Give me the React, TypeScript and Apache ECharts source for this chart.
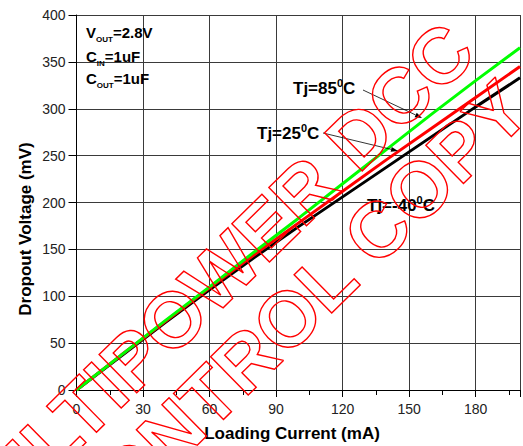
import React, { useEffect, useRef } from 'react';
import * as echarts from 'echarts';

const xValues = [0, 20, 40, 60, 80, 100, 120, 140, 160, 180, 200];
const green85 = [0, 37, 74, 110, 147, 183, 220, 257, 294, 330, 365];
const red25 = [0, 37, 73, 109, 144, 178, 212, 246, 279, 312, 345];
const blackM40 = [0, 36, 72, 107, 141, 174, 206, 238, 270, 302, 333];
const xTickLabels = [0, 30, 60, 90, 120, 150, 180];
const yTickLabels = [0, 50, 100, 150, 200, 250, 300, 350, 400];
const conditionLabels = [
  { main: 'V', sub: 'OUT', rest: '=2.8V' },
  { main: 'C', sub: 'IN', rest: '=1uF' },
  { main: 'C', sub: 'OUT', rest: '=1uF' },
];
const tempLabels = ['85', '25', '-40'];
const watermark1 = 'ULTIPOWER DCC';
const watermark2 = 'CONTROL COPY';

const FONT = "'Liberation Sans', Arial, sans-serif";

function arrow(x1: number, y1: number, x2: number, y2: number) {
  const dx = x2 - x1;
  const dy = y2 - y1;
  const len = Math.sqrt(dx * dx + dy * dy);
  const ux = dx / len;
  const uy = dy / len;
  const hl = 7;
  const hw = 2.5;
  const bx = x2 - ux * hl;
  const by = y2 - uy * hl;
  return [
    {
      type: 'line',
      z: 50,
      shape: { x1, y1, x2: bx, y2: by },
      style: { stroke: '#000', lineWidth: 0.8 },
    },
    {
      type: 'polygon',
      z: 50,
      shape: {
        points: [
          [x2, y2],
          [bx - uy * hw, by + ux * hw],
          [bx + uy * hw, by - ux * hw],
        ],
      },
      style: { fill: '#000' },
    },
  ];
}

export default function App() {
  const ref = useRef<HTMLDivElement>(null);
  useEffect(() => {
    if (!ref.current) return;
    const chart = echarts.init(ref.current, null, { renderer: 'svg' });
    const mk = (ys: number[]) => xValues.map((x, i) => [x, ys[i]]);

    const condTexts = conditionLabels.map((c, i) => ({
      type: 'text',
      z: 50,
      left: 86,
      top: [25, 49, 71][i],
      style: {
        text: `{b|${c.main}}{s|${c.sub}}{b|${c.rest}}`,
        rich: {
          b: { fontSize: 15, fontWeight: 'bold', fontFamily: FONT, fill: '#000', lineHeight: 17, verticalAlign: 'bottom' },
          s: { fontSize: 8, fontWeight: 'bold', fontFamily: FONT, fill: '#000', lineHeight: 17, verticalAlign: 'bottom', padding: [0, 0, -3, 0] },
        },
      },
    }));

    const tempPos = [
      [293, 87],
      [257, 132],
      [367, 204],
    ];
    const tempTexts = tempLabels.map((t, i) => ({
      type: 'text',
      z: 50,
      x: tempPos[i][0],
      y: tempPos[i][1],
      style: {
        text: `{b|Tj=${t}}{s|0}{b|C}`,
        verticalAlign: 'middle',
        align: 'left',
        rich: {
          b: { fontSize: 17, fontWeight: 'bold', fontFamily: FONT, fill: '#000', lineHeight: 20, verticalAlign: 'bottom' },
          s: { fontSize: 11, fontWeight: 'bold', fontFamily: FONT, fill: '#000', lineHeight: 20, verticalAlign: 'top' },
        },
      },
    }));

    const rot = (44.5 * Math.PI) / 180;
    const wmStyle = {
      fill: 'none',
      stroke: '#ff0000',
      lineWidth: 1.4,
      fontSize: 78,
      fontWeight: 'bold',
      fontFamily: FONT,
      align: 'right',
      verticalAlign: 'middle',
    };

    chart.setOption({
      animation: false,
      grid: { left: 76.5, right: 0, top: 15, bottom: 56 },
      xAxis: {
        type: 'value',
        min: 0,
        max: 200,
        interval: 30,
        axisLine: { lineStyle: { color: '#000', width: 1 } },
        axisTick: { show: true, length: 7, lineStyle: { color: '#000' } },
        minorTick: { show: true, splitNumber: 2, length: 5, lineStyle: { color: '#000' } },
        splitLine: { show: true, lineStyle: { color: '#3a3a3a', width: 1 } },
        axisLabel: {
          fontSize: 14,
          color: '#222',
          fontFamily: FONT,
          margin: 12,
          formatter: (v: number) => (xTickLabels.includes(v) ? String(v) : ''),
        },
      },
      yAxis: {
        type: 'value',
        min: 0,
        max: 400,
        interval: 50,
        axisLine: { show: true, lineStyle: { color: '#000', width: 1 } },
        axisTick: { show: true, length: 8, lineStyle: { color: '#000' } },
        splitLine: { show: true, lineStyle: { color: '#3a3a3a', width: 1 } },
        axisLabel: {
          fontSize: 14,
          color: '#222',
          fontFamily: FONT,
          margin: 11,
          formatter: (v: number) => (yTickLabels.includes(v) ? String(v) : ''),
        },
      },
      series: [
        { name: 'Tj=-40', type: 'line', data: mk(blackM40), showSymbol: false, lineStyle: { color: '#000000', width: 3 }, z: 2 },
        { name: 'Tj=25', type: 'line', data: mk(red25), showSymbol: false, lineStyle: { color: '#ff0000', width: 3 }, z: 3 },
        { name: 'Tj=85', type: 'line', data: mk(green85), showSymbol: false, lineStyle: { color: '#00ff00', width: 3 }, z: 4 },
      ],
      graphic: [
        ...condTexts,
        ...tempTexts,
        ...arrow(363, 90, 422, 118),
        ...arrow(323, 133, 398, 151),
        {
          type: 'text',
          z: 50,
          x: 25,
          y: 229,
          rotation: Math.PI / 2,
          style: {
            text: 'Dropout Voltage (mV)',
            fontSize: 17,
            fontWeight: 'bold',
            fontFamily: FONT,
            fill: '#000',
            align: 'center',
            verticalAlign: 'middle',
          },
        },
        {
          type: 'text',
          z: 50,
          x: 292,
          y: 433,
          style: {
            text: 'Loading Current (mA)',
            fontSize: 17,
            fontWeight: 'bold',
            fontFamily: FONT,
            fill: '#000',
            align: 'center',
            verticalAlign: 'middle',
          },
        },
        {
          type: 'text',
          z: 100,
          x: 460,
          y: 37,
          rotation: rot,
          silent: true,
          style: { ...wmStyle, text: watermark1 },
        },
        {
          type: 'text',
          z: 100,
          x: 515,
          y: 95,
          rotation: rot,
          silent: true,
          style: { ...wmStyle, text: watermark2 },
        },
      ],
    });
    return () => chart.dispose();
  }, []);
  return (
    <div
      ref={ref}
      style={{ position: 'fixed', left: 0, top: 0, width: 523, height: 446, background: '#fff' }}
    />
  );
}
